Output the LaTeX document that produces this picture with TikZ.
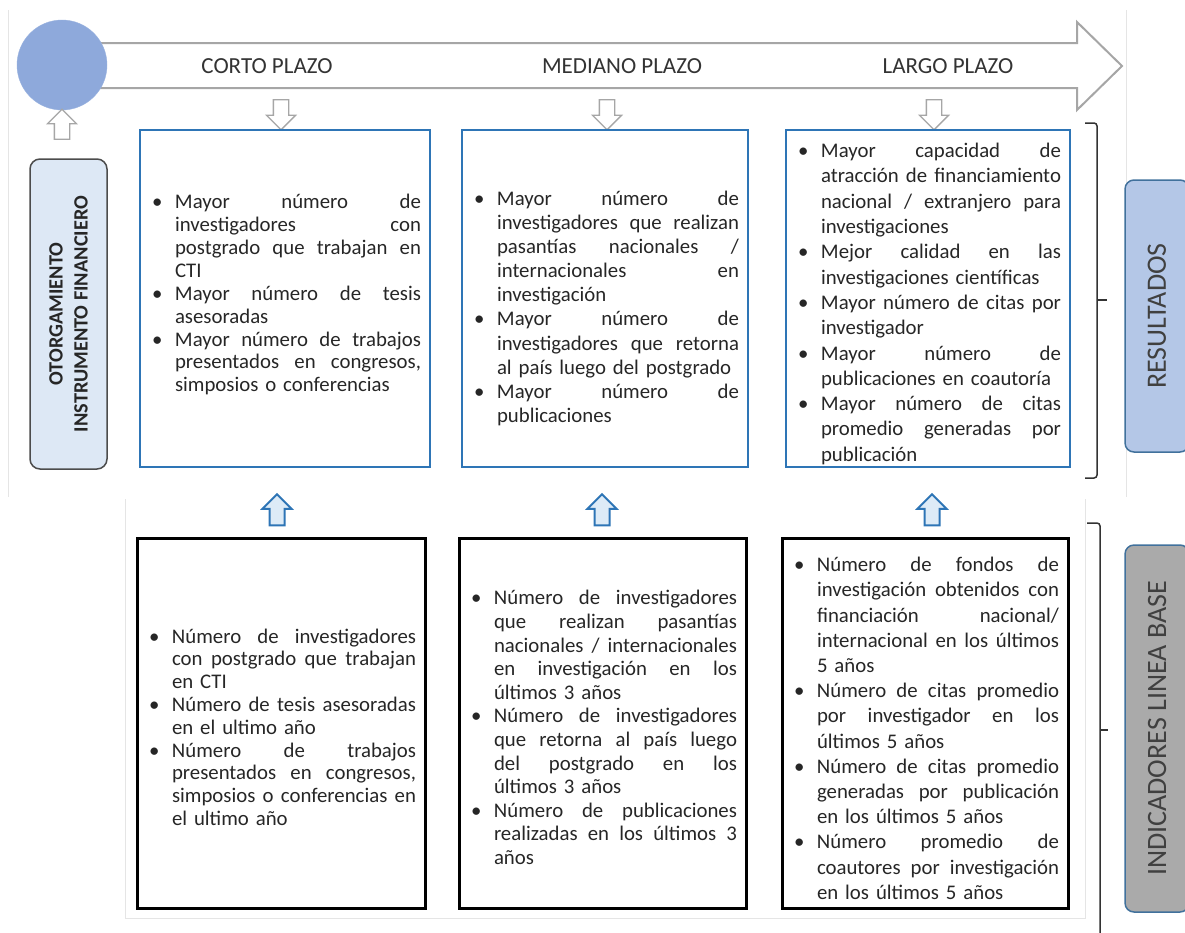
\documentclass[tikz,border=0pt]{standalone}
\usepackage{fontspec}
\setmainfont{Carlito}
\usetikzlibrary{shapes.arrows}

\definecolor{azul}{RGB}{46,117,182}
\definecolor{azulclaro}{RGB}{221,235,247}
\definecolor{circulo}{RGB}{142,169,219}
\definecolor{grisflecha}{RGB}{166,166,166}
\definecolor{otorga}{RGB}{221,232,245}
\definecolor{resul}{RGB}{180,199,231}
\definecolor{indic}{RGB}{170,170,170}
\definecolor{bordeazul}{RGB}{65,113,156}
\definecolor{texto}{RGB}{38,38,38}

% linea justificada de una vineta
\newcommand{\fila}[1]{\hbox to \dimexpr\hsize-26pt\relax{\spaceskip=\fontdimen2\font plus 1fil\relax #1}\newline}
\newcommand{\punto}{\par\noindent\hangindent=26pt\hangafter=1%
  \makebox[26pt][l]{\hspace{3pt}\textbullet}}

\tikzset{
  caja/.style={line width=2, text width=#1, inner xsep=9, inner ysep=0, text=texto},
  interlinea/.style={font=\fontsize{20.8}{#1}\selectfont},
  resultado/.style={caja=#1, draw=azul, minimum height=337},
  indicador/.style={caja=#1, draw=black, line width=3, minimum height=370},
  hueca/.style={single arrow, draw=grisflecha, fill=white, line width=1.3, inner sep=7,
    single arrow head extend=7, minimum height=30},
  subir/.style={single arrow, draw=azul, fill=azulclaro, line width=2, inner sep=6.5,
    single arrow head extend=7, minimum height=31, rotate=90},
  plazo/.style={font=\fontsize{23}{26}\selectfont, text=black!80},
  lateral/.style={rounded corners=9, line width=1.5, draw=bordeazul, minimum height=64,
    rotate=90, font=\fontsize{28}{32}\selectfont, text=black!75},
  marco/.style={draw=gray!20, line width=1},
  llave/.style={draw=black!80, line width=1.5, rounded corners=3}
}

\begin{document}
\begin{tikzpicture}[x=1pt, y=-1pt]
\clip (0,0) rectangle (1185,932);
% marcos
\draw[marco] (8,10) -- (8,497);
\draw[marco] (1126,10) -- (1126,497);
\draw[marco] (125,499) -- (125,918) -- (1085,918) -- (1085,499);

% flecha del tiempo
\draw[draw=grisflecha, line width=2, fill=white, line join=miter]
  (80,43) -- (1077,43) -- (1077,22) -- (1122,66) -- (1077,110) -- (1077,88) -- (80,88) -- cycle;
\node[circle, fill=circulo, draw=circulo!90!white, minimum size=90, inner sep=0] (inicio) at (62,65) {};

\node[plazo] (corto) at (267,66) {CORTO PLAZO};
\node[plazo] (mediano) at (622,66) {MEDIANO PLAZO};
\node[plazo] (largo) at (948,66) {LARGO PLAZO};

\node[draw=gray!60!black, fill=otorga, rounded corners=10, line width=1.5, minimum width=310,
  minimum height=77, rotate=90, align=center, text=texto,
  font=\bfseries\fontsize{20.3}{25}\selectfont] (otorgamiento) at (68.5,314)
  {OTORGAMIENTO\\INSTRUMENTO FINANCIERO};
\node[hueca, rotate=90] (subida) at (62,128) {};

\foreach \x/\n in {281/1,607/2,934/3}
  \node[hueca, rotate=-90] (bajar\n) at (\x,111) {};

% resultados
\node[resultado=272, interlinea=22.9] (res1) at (285,298.5) {%
\punto\fila{Mayor número de}\fila{investigadores con}\fila{postgrado que trabajan en}CTI
\punto\fila{Mayor número de tesis}asesoradas
\punto\fila{Mayor número de trabajos}\fila{presentados en congresos,}simposios o conferencias\par
\vspace*{16pt}};

\node[resultado=268, interlinea=24.1] (res2) at (605,298.5) {%
\vspace*{10pt}
\punto\fila{Mayor número de}\fila{investigadores que realizan}\fila{pasantías nacionales /}\fila{internacionales en}investigación
\punto\fila{Mayor número de}\fila{investigadores que retorna}al país luego del postgrado
\punto\fila{Mayor número de}publicaciones\par};

\node[resultado=266, interlinea=25.3] (res3) at (928,298.5) {%
\punto\fila{Mayor capacidad de}\fila{atracción de financiamiento}\fila{nacional / extranjero para}investigaciones
\punto\fila{Mejor calidad en las}investigaciones científicas
\punto\fila{Mayor número de citas por}investigador
\punto\fila{Mayor número de}publicaciones en coautoría
\punto\fila{Mayor número de citas}\fila{promedio generadas por}publicación\par};

\foreach \x/\n in {277/1,602/2,932/3}
  \node[subir] (subir\n) at (\x,513.5) {};

% indicadores
\node[indicador=270, interlinea=22.8] (ind1) at (281,723) {%
\punto\fila{Número de investigadores}\fila{con postgrado que trabajan}en CTI
\punto\fila{Número de tesis asesoradas}en el ultimo año
\punto\fila{Número de trabajos}\fila{presentados en congresos,}\fila{simposios o conferencias en}el ultimo año\par};

\node[indicador=269, interlinea=23.6] (ind2) at (602.5,723) {%
\punto\fila{Número de investigadores}\fila{que realizan pasantías}\fila{nacionales / internacionales}\fila{en investigación en los}últimos 3 años
\punto\fila{Número de investigadores}\fila{que retorna al país luego}\fila{del postgrado en los}últimos 3 años
\punto\fila{Número de publicaciones}\fila{realizadas en los últimos 3}años\par};

\node[indicador=268, interlinea=25.2] (ind3) at (925,723) {%
\punto\fila{Número de fondos de}\fila{investigación obtenidos con}\fila{financiación nacional/}\fila{internacional en los últimos}5 años
\punto\fila{Número de citas promedio}\fila{por investigador en los}últimos 5 años
\punto\fila{Número de citas promedio}\fila{generadas por publicación}en los últimos 5 años
\punto\fila{Número promedio de}\fila{coautores por investigación}en los últimos 5 años\par};

% llaves
\draw[llave] (1085,123) -- (1097,123) -- (1097,478) -- (1085,478);
\draw[llave] (1097,300) -- (1107,300);
\draw[llave] (1087,523) -- (1100,523) -- (1100,940);
\draw[llave] (1100,730) -- (1108,730);

\node[lateral, fill=resul, minimum width=272] (resultados) at (1157,316) {RESULTADOS};
\node[lateral, fill=indic, minimum width=367] (indicadores) at (1157,728.5) {INDICADORES LINEA BASE};
\end{tikzpicture}
\end{document}
